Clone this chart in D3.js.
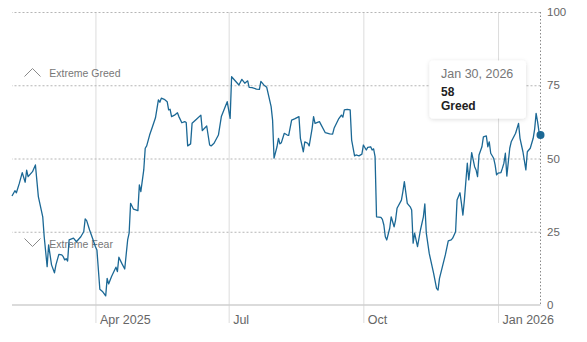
<!DOCTYPE html>
<html>
<head>
<meta charset="utf-8">
<script src="https://cdn.jsdelivr.net/npm/d3@7"></script>
<style>
  html, body { margin: 0; padding: 0; background: #fff; }
  svg { display: block; font-family: "Liberation Sans", Arial, Helvetica, sans-serif; }
</style>
</head>
<body>
<svg id="chart" width="587" height="342"></svg>
<script>
const dates = [
  "2025-02-03","2025-02-05","2025-02-06","2025-02-08","2025-02-10","2025-02-12","2025-02-13","2025-02-14",
  "2025-02-17","2025-02-19","2025-02-21","2025-02-24","2025-02-25","2025-02-27","2025-02-28","2025-03-02",
  "2025-03-04","2025-03-05","2025-03-07","2025-03-09","2025-03-10","2025-03-11","2025-03-12","2025-03-13",
  "2025-03-14","2025-03-17","2025-03-19","2025-03-22","2025-03-24","2025-03-25","2025-03-26","2025-03-28",
  "2025-03-30","2025-04-01","2025-04-02","2025-04-04","2025-04-06","2025-04-08","2025-04-09","2025-04-10",
  "2025-04-12","2025-04-15","2025-04-16","2025-04-17","2025-04-19","2025-04-21","2025-04-23","2025-04-24",
  "2025-04-25","2025-04-27","2025-04-29","2025-04-30","2025-05-01","2025-05-02","2025-05-04","2025-05-05",
  "2025-05-06","2025-05-08","2025-05-10","2025-05-12","2025-05-14","2025-05-15","2025-05-16","2025-05-18",
  "2025-05-20","2025-05-21","2025-05-22","2025-05-23","2025-05-25","2025-05-27","2025-05-28","2025-05-30",
  "2025-06-01","2025-06-02","2025-06-03","2025-06-05","2025-06-06","2025-06-09","2025-06-12","2025-06-13",
  "2025-06-15","2025-06-16","2025-06-18","2025-06-19","2025-06-21","2025-06-24","2025-06-26","2025-06-30",
  "2025-07-02","2025-07-03","2025-07-08","2025-07-10","2025-07-12","2025-07-14","2025-07-15","2025-07-17",
  "2025-07-20","2025-07-22","2025-07-23","2025-07-25","2025-07-27","2025-07-30","2025-07-31","2025-08-01",
  "2025-08-03","2025-08-04","2025-08-05","2025-08-06","2025-08-08","2025-08-10","2025-08-11","2025-08-13",
  "2025-08-15","2025-08-18","2025-08-19","2025-08-21","2025-08-22","2025-08-24","2025-08-25","2025-08-27",
  "2025-08-28","2025-08-29","2025-09-01","2025-09-05","2025-09-08","2025-09-10","2025-09-11","2025-09-14",
  "2025-09-16","2025-09-17","2025-09-18","2025-09-20","2025-09-22","2025-09-23","2025-09-25","2025-09-26",
  "2025-09-28","2025-09-30","2025-10-01","2025-10-03","2025-10-04","2025-10-06","2025-10-07","2025-10-08",
  "2025-10-09","2025-10-10","2025-10-13","2025-10-14","2025-10-15","2025-10-16","2025-10-17","2025-10-19",
  "2025-10-20","2025-10-22","2025-10-23","2025-10-24","2025-10-27","2025-10-28","2025-10-29","2025-10-31",
  "2025-11-02","2025-11-03","2025-11-04","2025-11-05","2025-11-07","2025-11-09","2025-11-11","2025-11-12",
  "2025-11-13","2025-11-15","2025-11-18","2025-11-20","2025-11-21","2025-11-22","2025-11-24","2025-11-26",
  "2025-11-28","2025-11-30","2025-12-01","2025-12-03","2025-12-04","2025-12-06","2025-12-07","2025-12-08",
  "2025-12-09","2025-12-11","2025-12-12","2025-12-13","2025-12-14","2025-12-16","2025-12-17","2025-12-18",
  "2025-12-19","2025-12-21","2025-12-22","2025-12-24","2025-12-25","2025-12-26","2025-12-27","2025-12-29",
  "2025-12-30","2025-12-31","2026-01-01","2026-01-03","2026-01-04","2026-01-05","2026-01-06","2026-01-07",
  "2026-01-09","2026-01-10","2026-01-13","2026-01-15","2026-01-16","2026-01-18","2026-01-20","2026-01-21",
  "2026-01-23","2026-01-25","2026-01-26","2026-01-27","2026-01-28","2026-01-29","2026-01-30"
];
const values = [
  37.2,39,38.3,41.5,45.2,41.9,46,43.8,
  45.5,47.8,37,30.1,23.3,13.1,20.5,13.7,
  11,13.7,17.3,17.1,16.5,15.4,15.8,15,
  22.2,22.8,21.6,23.3,25,29.4,28.8,25.6,
  22.8,19.9,18.8,5.4,4.5,3.1,9.1,7.2,
  9.7,12.9,11.4,16.3,14.2,12.3,22.2,24.5,
  34.7,32.7,32.4,32.2,41,38.7,46.1,53.5,
  54.3,58,60.9,63.9,70,69.2,70.6,70.2,
  69.4,66.6,66.8,64.3,64.8,65.6,64.3,62.2,
  62.6,62.3,54.3,55,62,63.4,64.8,59.5,
  60.6,61.1,54.6,54.3,55.2,58,64.3,69.4,
  63.7,77.9,75.1,77,75.7,76.5,74.3,74.2,
  73.7,73.6,76.3,75.1,74.3,67.7,63.1,50.1,
  54,56.9,55,55.4,58.6,58,57.9,63.1,
  63.5,64.3,56.9,52.3,55.7,55.2,54.3,60.3,
  64.3,62,62.6,58.8,58.4,58.3,60.3,63.4,
  64.8,64.1,66.6,66.8,66.6,56.3,50.9,51.2,
  50.9,51.5,54.6,52.9,53.8,54,52.9,53.3,
  50.6,30.1,29.9,29.2,27.3,23.3,22.2,26.2,
  30.1,26.7,29,33,35.8,38.7,42.1,34.7,
  33.5,32.4,21.1,24.5,19.9,25.6,30.1,34.5,
  24.5,17.6,10.8,5.7,5.1,9.1,13.1,17.1,
  21.9,22.2,22.8,25,35.8,38.3,34.7,30.7,
  35.8,48.4,42.7,47.2,52,47.2,46.1,43.8,
  51.2,54,57.4,57.7,54,55.7,51.8,50.1,
  47.8,44.4,45,45.2,46.7,48.4,51.8,44,
  53.5,55.7,58.6,62,56.9,52.3,46.1,52.3,
  53.5,56.9,60,65.4,62.6,59.1,58
];
const yTicks = [0, 25, 50, 75, 100];
const xTickDates = ["2025-04-01", "2025-07-01", "2025-10-01", "2026-01-01"];
const xTickLabels = ["Apr 2025", "Jul", "Oct", "Jan 2026"];
const zoneLabels = ["Extreme Greed", "Extreme Fear"];
const tooltipDate = "Jan 30, 2026";
const tooltipValue = "58";
const tooltipRating = "Greed";

(function () {
const parse = d3.utcParse("%Y-%m-%d");
const data = dates.map((d, i) => ({ date: parse(d), value: values[i] }));

const svg = d3.select("#chart");
const pL = 12, pR = 540.5, pT = 12, pB = 305;

const x = d3.scaleUtc()
  .domain([parse("2025-02-03"), parse("2026-01-30")])
  .range([pL, pR]);
const y = d3.scaleLinear().domain([0, 100]).range([pB, pT]);

const defs = svg.append("defs");
const f = defs.append("filter").attr("id", "shadow")
  .attr("x", "-20%").attr("y", "-20%").attr("width", "140%").attr("height", "150%");
f.append("feDropShadow").attr("dx", 0).attr("dy", 1).attr("stdDeviation", 2)
  .attr("flood-color", "#000").attr("flood-opacity", 0.14);

// vertical month gridlines (x axis)
const xAxis = d3.axisBottom(x)
  .tickValues(xTickDates.map(parse))
  .tickSizeInner(-(323 - pT))
  .tickSizeOuter(0)
  .tickFormat((d, i) => xTickLabels[i]);
const gx = svg.append("g").attr("transform", "translate(0,323)").call(xAxis);
gx.select(".domain").remove();
gx.selectAll(".tick line").attr("stroke", "#dcdcdc").attr("stroke-width", 1);
gx.selectAll(".tick text")
  .attr("text-anchor", "start").attr("x", 4).attr("y", 1).attr("dy", 0)
  .attr("fill", "#666").style("font-size", "12.5px")
  .style("font-family", "'Liberation Sans', Arial, sans-serif");

// horizontal dotted gridlines
const gGrid = svg.append("g").attr("transform", `translate(${pR},0)`)
  .call(d3.axisLeft(y).tickValues(yTicks.filter(v => v > 0)).tickSize(pR - pL).tickFormat(""));
gGrid.select(".domain").remove();
gGrid.selectAll(".tick line").attr("stroke", "#b5b5b5").attr("stroke-dasharray", "2,2").attr("stroke-width", 1);

// baseline
svg.append("line")
  .attr("x1", pL).attr("x2", pR).attr("y1", y(0)).attr("y2", y(0))
  .attr("stroke", "#cfcfcf").attr("stroke-width", 1.6);

// right dotted line + y labels
svg.append("line")
  .attr("x1", pR).attr("x2", pR).attr("y1", pT).attr("y2", pB)
  .attr("stroke", "#8a8a8a").attr("stroke-dasharray", "1.5,2").attr("stroke-width", 1);
const gy = svg.append("g").attr("transform", `translate(${pR},0)`)
  .call(d3.axisRight(y).tickValues(yTicks).tickSize(0).tickPadding(6.5));
gy.select(".domain").remove();
gy.selectAll(".tick text").attr("fill", "#666").style("font-size", "11.5px")
  .style("font-family", "'Liberation Sans', Arial, sans-serif");

// zone labels
const zone = svg.append("g").attr("fill", "#777").style("font-size", "10.5px");
zone.append("path").attr("d", "M24.5,76.5 L32.5,68.5 L40.5,76.5")
  .attr("fill", "none").attr("stroke", "#8a8a8a").attr("stroke-width", 1);
zone.append("text").attr("x", 49.3).attr("y", 76.8).text(zoneLabels[0]);
zone.append("path").attr("d", "M24.5,238.5 L32.5,246.5 L40.5,238.5")
  .attr("fill", "none").attr("stroke", "#8a8a8a").attr("stroke-width", 1);
zone.append("text").attr("x", 49.3).attr("y", 247.5).text(zoneLabels[1]);

// line
const line = d3.line().x(d => x(d.date)).y(d => y(d.value));
svg.append("path").datum(data)
  .attr("d", line).attr("fill", "none")
  .attr("stroke", "#1b6895").attr("stroke-width", 1.3).attr("stroke-linejoin", "round");

// end dot
const last = data[data.length - 1];
svg.append("circle").attr("cx", x(last.date)).attr("cy", y(last.value)).attr("r", 4)
  .attr("fill", "#1b6895");

// tooltip
const tt = svg.append("g").attr("transform", "translate(429.5,60.5)");
tt.append("rect").attr("width", 96.5).attr("height", 58).attr("rx", 4)
  .attr("fill", "#fff").attr("filter", "url(#shadow)");
tt.append("text").attr("x", 11.5).attr("y", 17.5).attr("fill", "#777")
  .style("font-size", "12.5px").text(tooltipDate);
tt.append("text").attr("x", 11.5).attr("y", 35).attr("fill", "#222")
  .style("font-size", "12px").style("font-weight", "bold").text(tooltipValue);
tt.append("text").attr("x", 11.5).attr("y", 49).attr("fill", "#222")
  .style("font-size", "12px").style("font-weight", "bold").text(tooltipRating);
})();
</script>
</body>
</html>
